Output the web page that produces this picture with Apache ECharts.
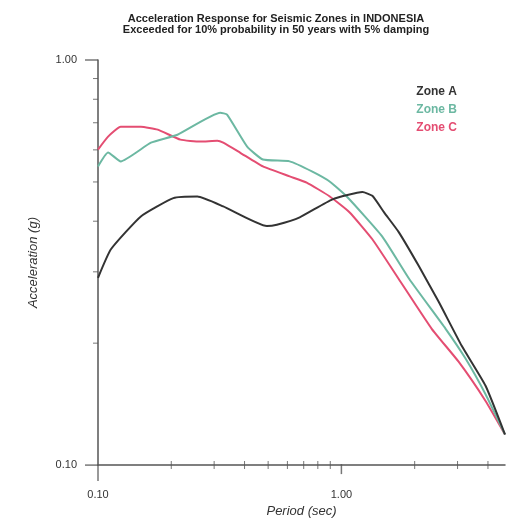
<!DOCTYPE html>
<html>
<head>
<meta charset="utf-8">
<script src="https://cdn.jsdelivr.net/npm/echarts@6/dist/echarts.min.js"></script>
<style>html,body{margin:0;padding:0;background:#fff}#c{width:510px;height:523px}</style>
</head>
<body>
<div id="c"></div>
<script>
const titleLines = ['Acceleration Response for Seismic Zones in INDONESIA', 'Exceeded for 10% probability in 50 years with 5% damping'];
const seriesNames = ['Zone A', 'Zone B', 'Zone C'];
const seriesColors = ['#333333', '#6cb8a2', '#e44d72'];
const zoneA = [[0.100,0.290],[0.113,0.341],[0.150,0.411],[0.204,0.456],[0.256,0.460],[0.327,0.435],[0.494,0.389],[0.543,0.392],[0.674,0.409],[0.919,0.453],[1.22,0.472],[1.34,0.462],[1.50,0.420],[1.72,0.376],[2.08,0.310],[2.51,0.253],[3.12,0.197],[3.91,0.157],[4.70,0.119]];
const zoneB = [[0.100,0.546],[0.110,0.591],[0.124,0.562],[0.165,0.625],[0.212,0.654],[0.318,0.741],[0.339,0.733],[0.410,0.611],[0.476,0.568],[0.613,0.562],[0.760,0.530],[0.900,0.500],[1.050,0.461],[1.47,0.367],[1.90,0.288],[2.68,0.217],[3.24,0.183],[3.90,0.150],[4.70,0.119]];
const zoneC = [[0.100,0.601],[0.110,0.647],[0.124,0.684],[0.150,0.684],[0.176,0.673],[0.218,0.636],[0.263,0.629],[0.309,0.632],[0.327,0.625],[0.383,0.591],[0.476,0.546],[0.613,0.516],[0.720,0.498],[0.893,0.461],[1.079,0.421],[1.34,0.361],[1.72,0.288],[2.35,0.217],[3.03,0.180],[3.91,0.144],[4.70,0.119]];
const xMin = 0.1, xMax = 4.7, yMin = 0.1, yMax = 1.0;
const xMinorTicks = [0.2,0.3,0.4,0.5,0.6,0.7,0.8,0.9,2,3,4];
const yMinorTicks = [0.2,0.3,0.4,0.5,0.6,0.7,0.8,0.9];
const xAxisName = 'Period (sec)';
const yAxisName = 'Acceleration (g)';

const axisColor = '#555';
const font = 'Liberation Sans, Arial, sans-serif';
const isDecade = v => Math.abs(Math.log10(v) - Math.round(Math.log10(v))) < 1e-6;

const chart = echarts.init(document.getElementById('c'));
const lineSeries = [zoneA, zoneB, zoneC].map((d, i) => ({
  name: seriesNames[i], type: 'line', data: d, showSymbol: false, smooth: 0.15,
  lineStyle: { color: seriesColors[i], width: 2 }, itemStyle: { color: seriesColors[i] }, z: 3 - i + 2
}));
const tickStyle = { color: axisColor };
const tickSeries = [
  { type: 'scatter', silent: true, clip: false, symbol: 'rect', symbolSize: [1, 8], itemStyle: tickStyle,
    data: xMinorTicks.map(v => [v, yMin]) },
  { type: 'scatter', silent: true, clip: false, symbol: 'rect', symbolSize: [1.5, 10], symbolOffset: [0, 4], itemStyle: tickStyle,
    data: [[1, yMin]] },
  { type: 'scatter', silent: true, clip: false, symbol: 'rect', symbolSize: [1.5, 16], symbolOffset: [0, 8], itemStyle: tickStyle,
    data: [[xMin, yMin]] },
  { type: 'scatter', silent: true, clip: false, symbol: 'rect', symbolSize: [5, 1], symbolOffset: [-2.5, 0], itemStyle: tickStyle,
    data: yMinorTicks.map(v => [xMin, v]) },
  { type: 'scatter', silent: true, clip: false, symbol: 'rect', symbolSize: [13, 1.5], symbolOffset: [-6.5, 0], itemStyle: tickStyle,
    data: [[xMin, yMax], [xMin, yMin]] }
];

chart.setOption({
  animation: false,
  backgroundColor: '#fff',
  title: {
    text: titleLines.join('\n'), left: 271, top: 8, textAlign: 'center',
    textStyle: { fontSize: 11, fontWeight: 'bold', color: '#222', lineHeight: 11, fontFamily: font }
  },
  legend: {
    orient: 'vertical', right: 48, top: 86, align: 'right', itemWidth: 0, itemHeight: 12, itemGap: 6,
    icon: 'none', padding: 0,
    data: seriesNames.map((n, i) => ({ name: n, textStyle: { color: seriesColors[i] } })),
    textStyle: { fontSize: 12, fontWeight: 'bold', fontFamily: font, padding: 0 }
  },
  grid: { left: 98, right: 5, top: 60, bottom: 51, containLabel: false },
  xAxis: {
    type: 'log', logBase: 10, min: xMin, max: xMax,
    name: xAxisName, nameLocation: 'middle', nameGap: 39,
    nameTextStyle: { fontSize: 13, fontStyle: 'italic', color: '#333', fontFamily: font },
    axisLine: { lineStyle: { color: axisColor, width: 1.5 } },
    axisTick: { show: false }, splitLine: { show: false },
    axisLabel: { margin: 24, fontSize: 11, color: '#333', fontFamily: font, showMaxLabel: false,
      formatter: v => isDecade(v) ? v.toFixed(2) : '' }
  },
  yAxis: {
    type: 'log', logBase: 10, min: yMin, max: yMax,
    name: yAxisName, nameLocation: 'middle', nameGap: 58, nameRotate: 90,
    nameTextStyle: { fontSize: 13, fontStyle: 'italic', color: '#333', fontFamily: font },
    axisLine: { lineStyle: { color: axisColor, width: 1.5 } },
    axisTick: { show: false }, splitLine: { show: false },
    axisLabel: { margin: 21, fontSize: 11, color: '#333', fontFamily: font,
      formatter: v => isDecade(v) ? v.toFixed(2) : '' }
  },
  series: lineSeries.concat(tickSeries)
});
</script>
</body>
</html>
